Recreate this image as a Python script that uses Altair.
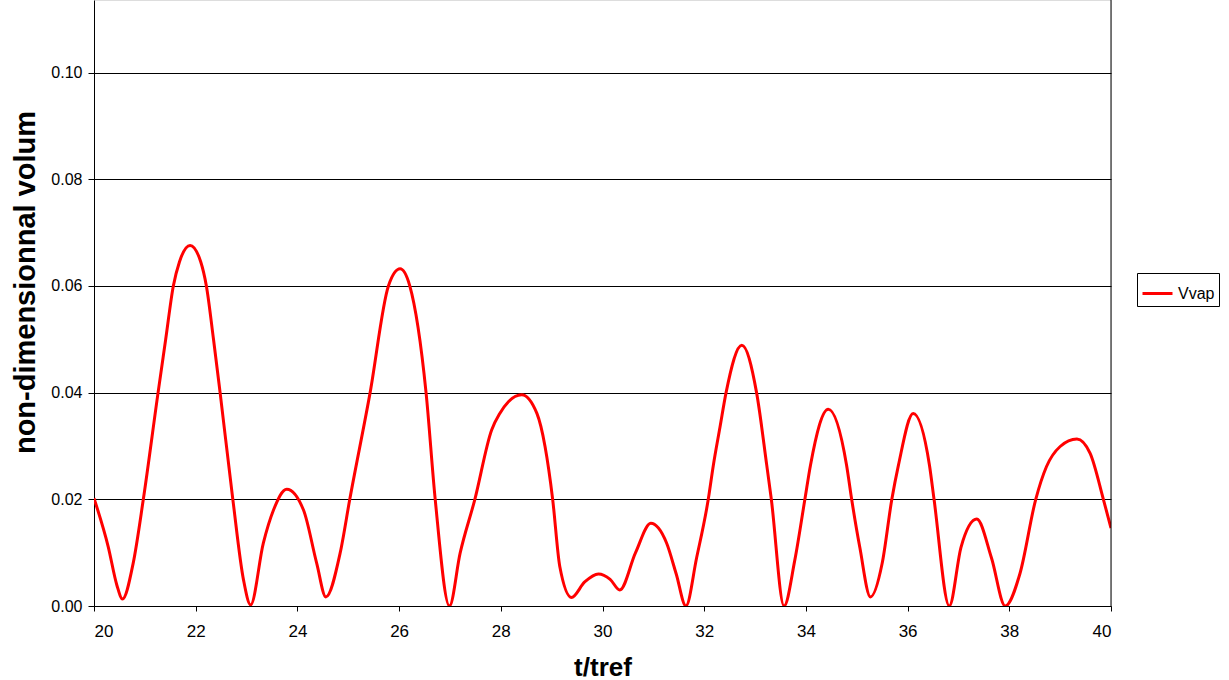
import altair as alt
import pandas as pd

t = [20.00, 20.28, 20.45, 20.56, 20.77, 20.97, 21.26, 21.41, 21.56, 21.68, 21.89, 22.10, 22.21, 22.35, 22.48, 22.73,
     22.94, 23.08, 23.33, 23.53, 23.79, 24.12, 24.38, 24.56, 24.84, 25.03, 25.43, 25.79, 26.02, 26.21, 26.53, 26.71,
     26.99, 27.20, 27.49, 27.82, 27.98, 28.15, 28.41, 28.71, 28.87, 29.02, 29.16, 29.39, 29.65, 29.92, 30.15, 30.34,
     30.65, 30.95, 31.26, 31.45, 31.64, 31.85, 32.08, 32.18, 32.31, 32.43, 32.74, 33.03, 33.23, 33.32, 33.57, 33.78,
     33.98, 34.09, 34.44, 34.80, 34.90, 35.06, 35.27, 35.50, 35.69, 35.82, 36.11, 36.43, 36.52, 36.82, 37.05, 37.36,
     37.65, 37.92, 38.21, 38.52, 38.73, 39.00, 39.33, 39.59, 39.85, 40.00]
v = [0.0202, 0.0111, 0.0039, 0.0013, 0.0080, 0.0200, 0.0400, 0.0500, 0.0600, 0.0645, 0.0676, 0.0645, 0.0600, 0.0500, 0.0400, 0.0200,
     0.0049, 0.0002, 0.0118, 0.0180, 0.0219, 0.0180, 0.0080, 0.0017, 0.0099, 0.0200, 0.0400, 0.0600, 0.0632, 0.0600, 0.0400, 0.0200,
     0.0000, 0.0099, 0.0200, 0.0330, 0.0361, 0.0383, 0.0396, 0.0361, 0.0299, 0.0200, 0.0074, 0.0016, 0.0045, 0.0060, 0.0050, 0.0030,
     0.0100, 0.0155, 0.0118, 0.0060, 0.0000, 0.0090, 0.0200, 0.0264, 0.0335, 0.0400, 0.0489, 0.0400, 0.0264, 0.0200, 0.0000, 0.0085,
     0.0200, 0.0264, 0.0369, 0.0264, 0.0200, 0.0110, 0.0017, 0.0080, 0.0200, 0.0264, 0.0361, 0.0264, 0.0200, 0.0000, 0.0110, 0.0163,
     0.0090, 0.0000, 0.0061, 0.0200, 0.0261, 0.0299, 0.0313, 0.0286, 0.0200, 0.0146]
series = ["Vvap"] * len(t)

df = pd.DataFrame({"t": t, "v": v, "series": series})

FONT = "Liberation Sans"

line = alt.Chart(df).mark_line(interpolate="monotone", strokeWidth=3, clip=True).encode(
    x=alt.X("t:Q", scale=alt.Scale(domain=[20, 40], nice=False, zero=False),
            axis=alt.Axis(values=list(range(20, 41, 2)), title="t/tref", grid=False,
                          domainColor="black", tickColor="black", tickSize=5, labelFontSize=17,
                          labelFont=FONT, labelColor="black", labelPadding=12,
                          titleFont=FONT, titleFontSize=26, titleFontWeight="bold",
                          titleColor="black", titleY=61, titleBaseline="middle")),
    y=alt.Y("v:Q", scale=alt.Scale(domain=[0, 0.1136], nice=False),
            axis=alt.Axis(values=[0, 0.02, 0.04, 0.06, 0.08, 0.10], format=".2f",
                          title="non-dimensionnal volum", grid=True, gridColor="black",
                          gridWidth=1, gridOpacity=1,
                          domainColor="black", tickColor="black", tickSize=6, labelFontSize=16,
                          labelFont=FONT, labelColor="black", labelPadding=6,
                          titleFont=FONT, titleFontSize=29, titleFontWeight="bold",
                          titleColor="black", titleX=-69, titleY=282, titleAngle=-90,
                          titleAlign="center", titleBaseline="middle")),
    color=alt.Color("series:N", scale=alt.Scale(domain=["Vvap"], range=["#ff0000"]),
                    legend=alt.Legend(title=None, orient="none", legendX=1043, legendY=273,
                                      symbolType="stroke", symbolSize=900, symbolStrokeWidth=3,
                                      labelFont=FONT, labelFontSize=16, labelColor="black",
                                      strokeColor="black", fillColor="white", padding=4,
                                      labelOffset=4)),
)

border = alt.Chart(pd.DataFrame({"a": [0]})).mark_rule(color="black", strokeWidth=1).encode(
    x=alt.value(1017), y=alt.value(0), y2=alt.value(606)
)

chart = alt.layer(line, border).properties(
    width=1017, height=606,
    autosize=alt.AutoSizeParams(type="none"),
    padding={"left": 94, "top": 0, "right": 118, "bottom": 74},
).configure_view(stroke=None).configure(background="white")

chart.save("out.html", embed_options={"renderer": "svg", "actions": False})
